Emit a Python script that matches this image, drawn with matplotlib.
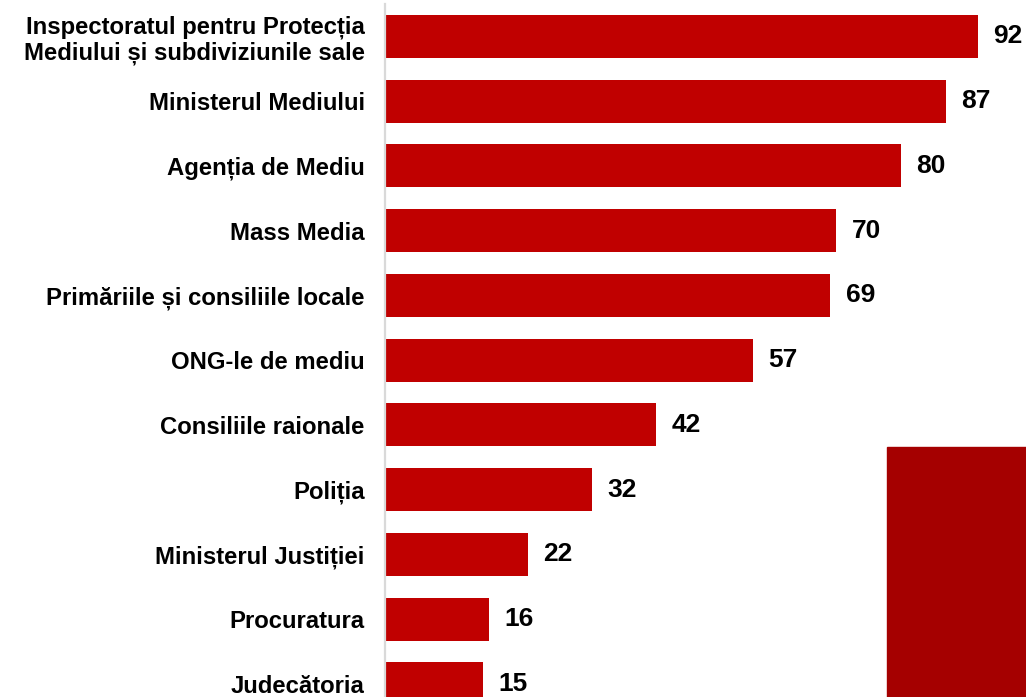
import os
import matplotlib
matplotlib.use("Agg")
import matplotlib.pyplot as plt
import matplotlib.font_manager as fm
from matplotlib.patches import Rectangle

categories = [
    "Inspectoratul pentru Protecția\nMediului și subdiviziunile sale",
    "Ministerul Mediului",
    "Agenția de Mediu",
    "Mass Media",
    "Primăriile și consiliile locale",
    "ONG-le de mediu",
    "Consiliile raionale",
    "Poliția",
    "Ministerul Justiției",
    "Procuratura",
    "Judecătoria",
]
values = [92, 87, 80, 70, 69, 57, 42, 32, 22, 16, 15]

BAR = "#C00000"
DARK = "#A50000"
plt.rcParams["font.family"] = ["Liberation Sans", "DejaVu Sans"]

bold_path = None
for f in fm.fontManager.ttflist:
    if os.path.basename(f.fname) == "LiberationSans-Bold.ttf":
        bold_path = f.fname
        break
if bold_path is None:
    bold_path = fm.findfont(fm.FontProperties(family="Liberation Sans",
                                              weight="bold", stretch="normal"))


def fp(size):
    return fm.FontProperties(fname=bold_path, size=size)


W, H = 1026, 697
fig = plt.figure(figsize=(W / 100, H / 100), dpi=100)
ax_left = 386.3 / W
px_per_unit = 6.43
ax = fig.add_axes([ax_left, 0, 100 * px_per_unit / W, 1])

pos = list(range(len(categories)))
ax.barh(pos, values, height=0.664, color=BAR, zorder=2)
ax.set_xlim(0, 100)
pitch = 64.76
c0 = 36.4
ax.set_ylim((H - c0) / pitch, -c0 / pitch)

for s in ax.spines.values():
    s.set_visible(False)
ax.axvline(-0.2, ymin=0, ymax=1 - 4 / H, color="#D9D9D9", lw=1.6,
           zorder=3, clip_on=False)

ax.set_xticks([])
ax.set_yticks(pos)
ax.set_yticklabels(categories, linespacing=1.15)
for lab in ax.get_yticklabels():
    lab.set_fontproperties(fp(17.2))
ax.tick_params(axis="y", length=0, pad=15.5)

for p, v in zip(pos, values):
    ax.annotate(str(v), (v, p), xytext=(11.3, 0), textcoords="offset points",
                ha="left", va="center", fontproperties=fp(19),
                color="black", annotation_clip=False)

fig.patches.append(Rectangle((887 / W, 0), (W - 887) / W, 250 / H,
                             transform=fig.transFigure, color=DARK,
                             zorder=5))

fig.savefig("out.png", dpi=100)
